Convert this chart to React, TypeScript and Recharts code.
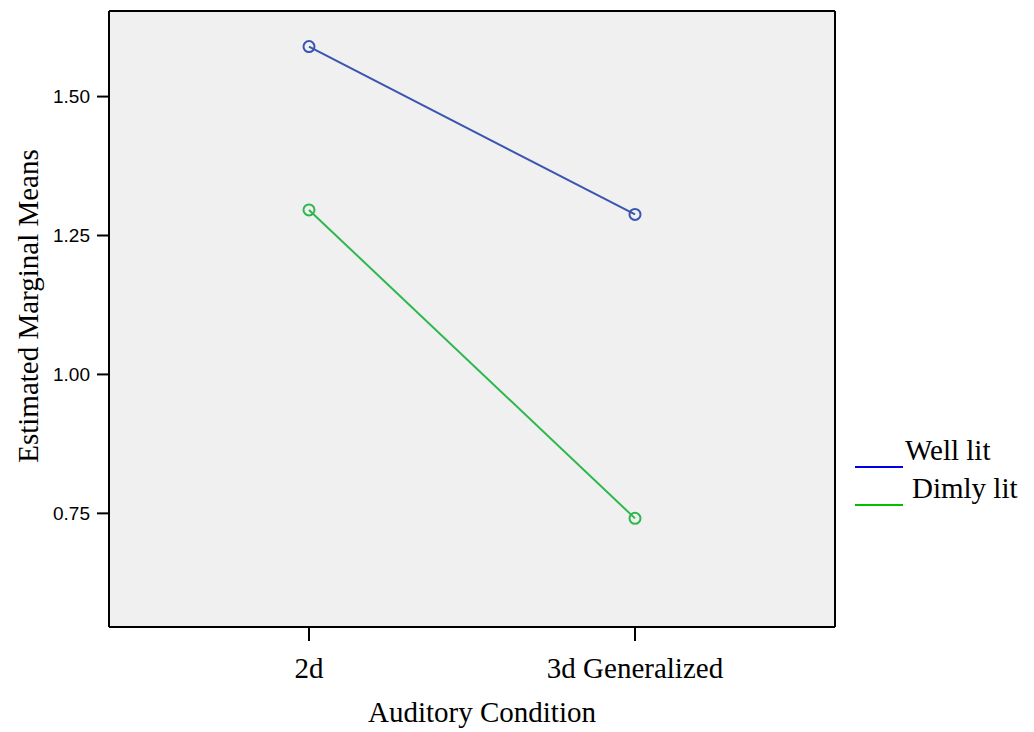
import { LineChart, Line, XAxis, YAxis, CartesianGrid } from 'recharts'

const CONDITIONS = ['2d', '3d Generalized']
const WELL_LIT = [1.59, 1.288]
const DIMLY_LIT = [1.296, 0.741]
const Y_TICKS = [0.75, 1.0, 1.25, 1.5]

const SERIES = [
  { key: 'well', name: 'Well lit', color: '#3a55b0', legendColor: '#0000e6' },
  { key: 'dim', name: 'Dimly lit', color: '#2db84d', legendColor: '#00c000' },
]

const data = CONDITIONS.map((c, i) => ({
  condition: c,
  well: WELL_LIT[i],
  dim: DIMLY_LIT[i],
}))

const serif = '"Liberation Serif", "Times New Roman", serif'
const sans = '"Liberation Sans", Arial, sans-serif'
const Y_DOMAIN = [0.5455, 1.654]

// SPSS-style legend: an underline-ish swatch sitting before each label
function LegendBox() {
  return (
    <svg width={180} height={90} style={{ position: 'absolute', left: 855, top: 430 }}>
      {SERIES.map((s, i) => (
        <g key={s.key}>
          <line x1={0} x2={48} y1={37 + i * 38} y2={37 + i * 38} stroke={s.legendColor} strokeWidth={2} />
          <text x={50 + i * 7} y={30 + i * 38} fontFamily={serif} fontSize={29} fill="#000">
            {s.name}
          </text>
        </g>
      ))}
    </svg>
  )
}

export default function App() {
  return (
    <div style={{ position: 'absolute', left: 0, top: 0, width: 1034, height: 732, background: '#fff' }}>
      <LineChart
        width={1034}
        height={732}
        data={data}
        margin={{ top: 10, right: 198, bottom: 0, left: 0 }}
      >
        <CartesianGrid fill="#f0f0f0" horizontal={false} vertical={false} />
        <XAxis
          dataKey="condition"
          height={105}
          padding={{ left: 200, right: 200 }}
          axisLine={{ stroke: '#000', strokeWidth: 2 }}
          tickLine={{ stroke: '#000', strokeWidth: 2 }}
          tickSize={14}
          tickMargin={16}
          tick={{ fill: '#000', fontFamily: serif, fontSize: 29 }}
          label={{
            content: ({ viewBox }: any) => (
              <text
                x={viewBox.x + viewBox.width / 2 + 10}
                y={722}
                textAnchor="middle"
                fontFamily={serif}
                fontSize={29}
                fill="#000"
              >
                Auditory Condition
              </text>
            ),
          }}
        />
        {/* top and right edges of the frame */}
        <XAxis
          xAxisId="top"
          dataKey="condition"
          orientation="top"
          height={1}
          tick={false}
          tickLine={false}
          axisLine={{ stroke: '#000', strokeWidth: 2 }}
        />
        <YAxis
          yAxisId="right"
          orientation="right"
          width={1}
          domain={Y_DOMAIN}
          tick={false}
          tickLine={false}
          axisLine={{ stroke: '#000', strokeWidth: 2 }}
        />
        <YAxis
          width={109}
          domain={Y_DOMAIN}
          ticks={Y_TICKS}
          allowDataOverflow
          tickFormatter={(v: number) => v.toFixed(2)}
          axisLine={{ stroke: '#000', strokeWidth: 2 }}
          tickLine={{ stroke: '#000', strokeWidth: 2 }}
          tickSize={12}
          tickMargin={7}
          tick={{ fill: '#000', fontFamily: sans, fontSize: 19 }}
          label={{
            content: ({ viewBox }: any) => {
              const cy = viewBox.y + viewBox.height / 2 - 13
              return (
                <text
                  x={28}
                  y={cy}
                  textAnchor="middle"
                  dominantBaseline="central"
                  transform={`rotate(-90, 28, ${cy})`}
                  fontFamily={serif}
                  fontSize={29}
                  fill="#000"
                >
                  Estimated Marginal Means
                </text>
              )
            },
          }}
        />
        {SERIES.map((s) => (
          <Line
            key={s.key}
            dataKey={s.key}
            name={s.name}
            stroke={s.color}
            strokeWidth={2}
            dot={{ r: 5.5, fill: 'none', stroke: s.color, strokeWidth: 2 }}
            activeDot={false}
            isAnimationActive={false}
          />
        ))}
      </LineChart>
      <LegendBox />
    </div>
  )
}
